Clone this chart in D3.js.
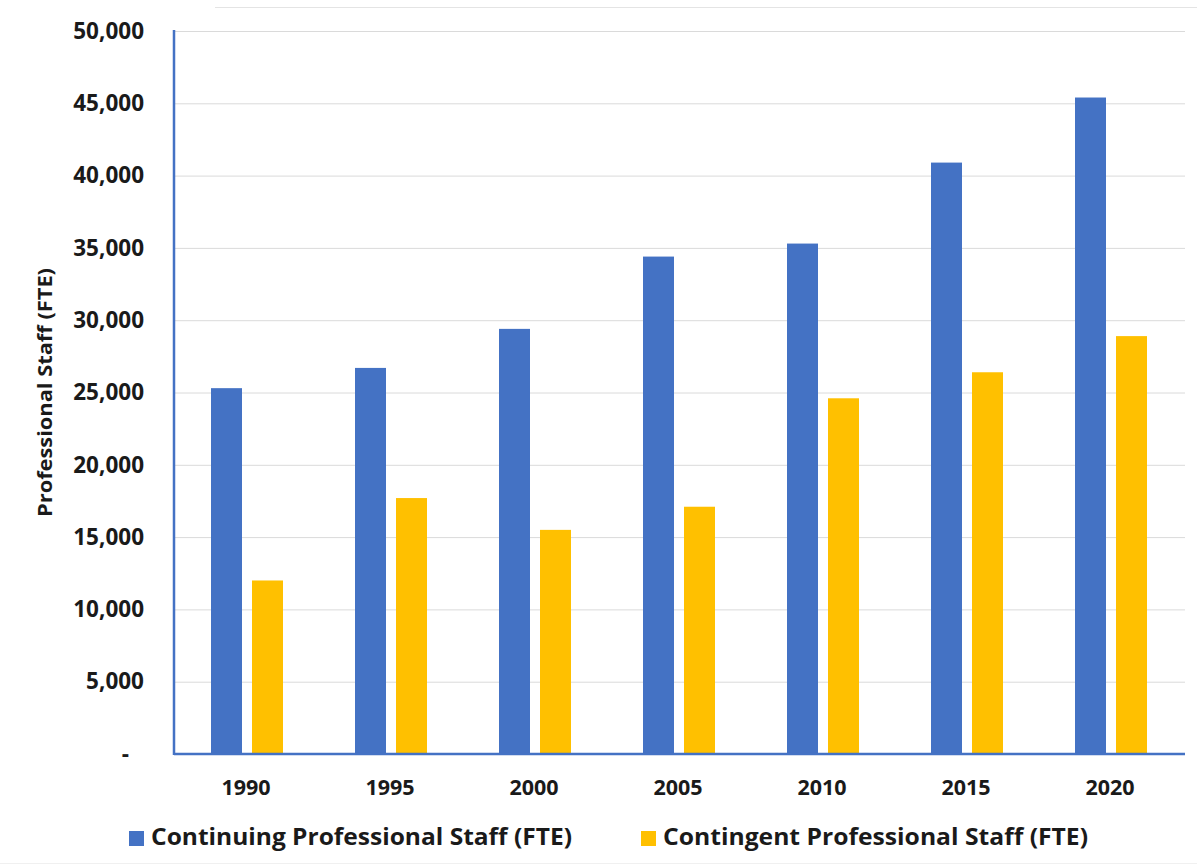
<!DOCTYPE html>
<html>
<head>
<meta charset="utf-8">
<script src="https://cdn.jsdelivr.net/npm/d3@7"></script>
<style>
  html, body { margin: 0; padding: 0; background: #ffffff; }
  svg { display: block; }
  text { font-family: "Open Sans", Lato, sans-serif; font-weight: 700; fill: #1a1a1a; }
</style>
</head>
<body>
<svg id="chart" width="1197" height="866"></svg>
<script>
// Professional staff (FTE) by year
const years = ["1990", "1995", "2000", "2005", "2010", "2015", "2020"];
const continuing = [25300, 26700, 29400, 34400, 35300, 40900, 45400];
const contingent = [12000, 17700, 15500, 17100, 24600, 26400, 28900];
const seriesNames = ["Continuing Professional Staff (FTE)", "Contingent Professional Staff (FTE)"];
const yTicks = [0, 5000, 10000, 15000, 20000, 25000, 30000, 35000, 40000, 45000, 50000];

const colors = ["#4472C4", "#FFC000"];
const axisColor = "#4472C4";
const svg = d3.select("#chart");

const margin = { left: 174, top: 31 };
const plotW = 1182 - margin.left;
const plotH = 754 - margin.top;

const g = svg.append("g").attr("transform", `translate(${margin.left},${margin.top})`);

const x0 = d3.scaleBand().domain(years).range([0, plotW]).paddingInner(0).paddingOuter(0);
const x1 = d3.scaleBand().domain([0, 1])
  .range([x0.bandwidth() / 2 - 35, x0.bandwidth() / 2 + 37])
  .paddingInner(0.244).paddingOuter(0);
const y = d3.scaleLinear().domain([0, 50000]).range([plotH, 0]);

// faint frame lines at the top and bottom edges
svg.append("line").attr("x1", 215).attr("x2", 1197).attr("y1", 7.5).attr("y2", 7.5)
  .attr("stroke", "#e4e4e4").attr("stroke-width", 1);
svg.append("line").attr("x1", 0).attr("x2", 1197).attr("y1", 863.5).attr("y2", 863.5)
  .attr("stroke", "#f0f0f0").attr("stroke-width", 1);

// gridlines
g.append("g").selectAll("line").data(yTicks.filter(d => d > 0)).join("line")
  .attr("x1", 0).attr("x2", plotW + 3)
  .attr("y1", d => y(d) + 0.5).attr("y2", d => y(d) + 0.5)
  .attr("stroke", "#dadada").attr("stroke-width", 1);

// bars
const rows = years.map((yr, i) => ({ yr, vals: [continuing[i], contingent[i]] }));
g.append("g").selectAll("g").data(rows).join("g")
  .attr("transform", d => `translate(${x0(d.yr)},0)`)
  .selectAll("rect").data(d => d.vals.map((v, k) => ({ v, k }))).join("rect")
  .attr("x", d => x1(d.k))
  .attr("width", x1.bandwidth())
  .attr("y", d => y(d.v))
  .attr("height", d => plotH - y(d.v))
  .attr("fill", d => colors[d.k]);

// axis lines
g.append("line").attr("x1", 0).attr("x2", 0).attr("y1", -1).attr("y2", plotH + 1)
  .attr("stroke", axisColor).attr("stroke-width", 2.5);
g.append("line").attr("x1", 0).attr("x2", plotW + 3).attr("y1", plotH).attr("y2", plotH)
  .attr("stroke", axisColor).attr("stroke-width", 2.5);

// y axis labels (accounting style: zero shown as a dash)
const yAxis = d3.axisLeft(y).tickValues(yTicks).tickSize(0).tickPadding(30)
  .tickFormat(d => d === 0 ? "-" : d3.format(",")(d));
const ya = g.append("g").call(yAxis);
ya.select(".domain").remove();
ya.selectAll("text")
  .attr("font-size", 22.5).attr("font-family", "'Open Sans', sans-serif")
  .attr("font-weight", 700).attr("fill", "#1a1a1a")
  .attr("dx", d => d === 0 ? -15 : 0);

// x axis labels
const xAxis = d3.axisBottom(x0).tickSize(0).tickPadding(26);
const xa = g.append("g").attr("transform", `translate(0,${plotH})`).call(xAxis);
xa.select(".domain").remove();
xa.selectAll("text")
  .attr("font-size", 21.5).attr("font-family", "'Open Sans', sans-serif")
  .attr("font-weight", 700).attr("fill", "#1a1a1a");

// y axis title
svg.append("text")
  .attr("transform", `translate(52,392.5) rotate(-90)`)
  .attr("text-anchor", "middle")
  .attr("font-size", 19.5)
  .attr("textLength", 249).attr("lengthAdjust", "spacingAndGlyphs")
  .text("Professional Staff (FTE)");

// legend
const legendItems = [
  { name: seriesNames[0], color: colors[0], x: 129, w: 421 },
  { name: seriesNames[1], color: colors[1], x: 641, w: 425 }
];
const lg = svg.append("g").selectAll("g").data(legendItems).join("g")
  .attr("transform", d => `translate(${d.x},831)`);
lg.append("rect").attr("width", 15).attr("height", 15).attr("fill", d => d.color);
lg.append("text").attr("x", 22).attr("y", 14)
  .attr("font-size", 23.5)
  .attr("textLength", d => d.w).attr("lengthAdjust", "spacingAndGlyphs")
  .text(d => d.name);
</script>
</body>
</html>
